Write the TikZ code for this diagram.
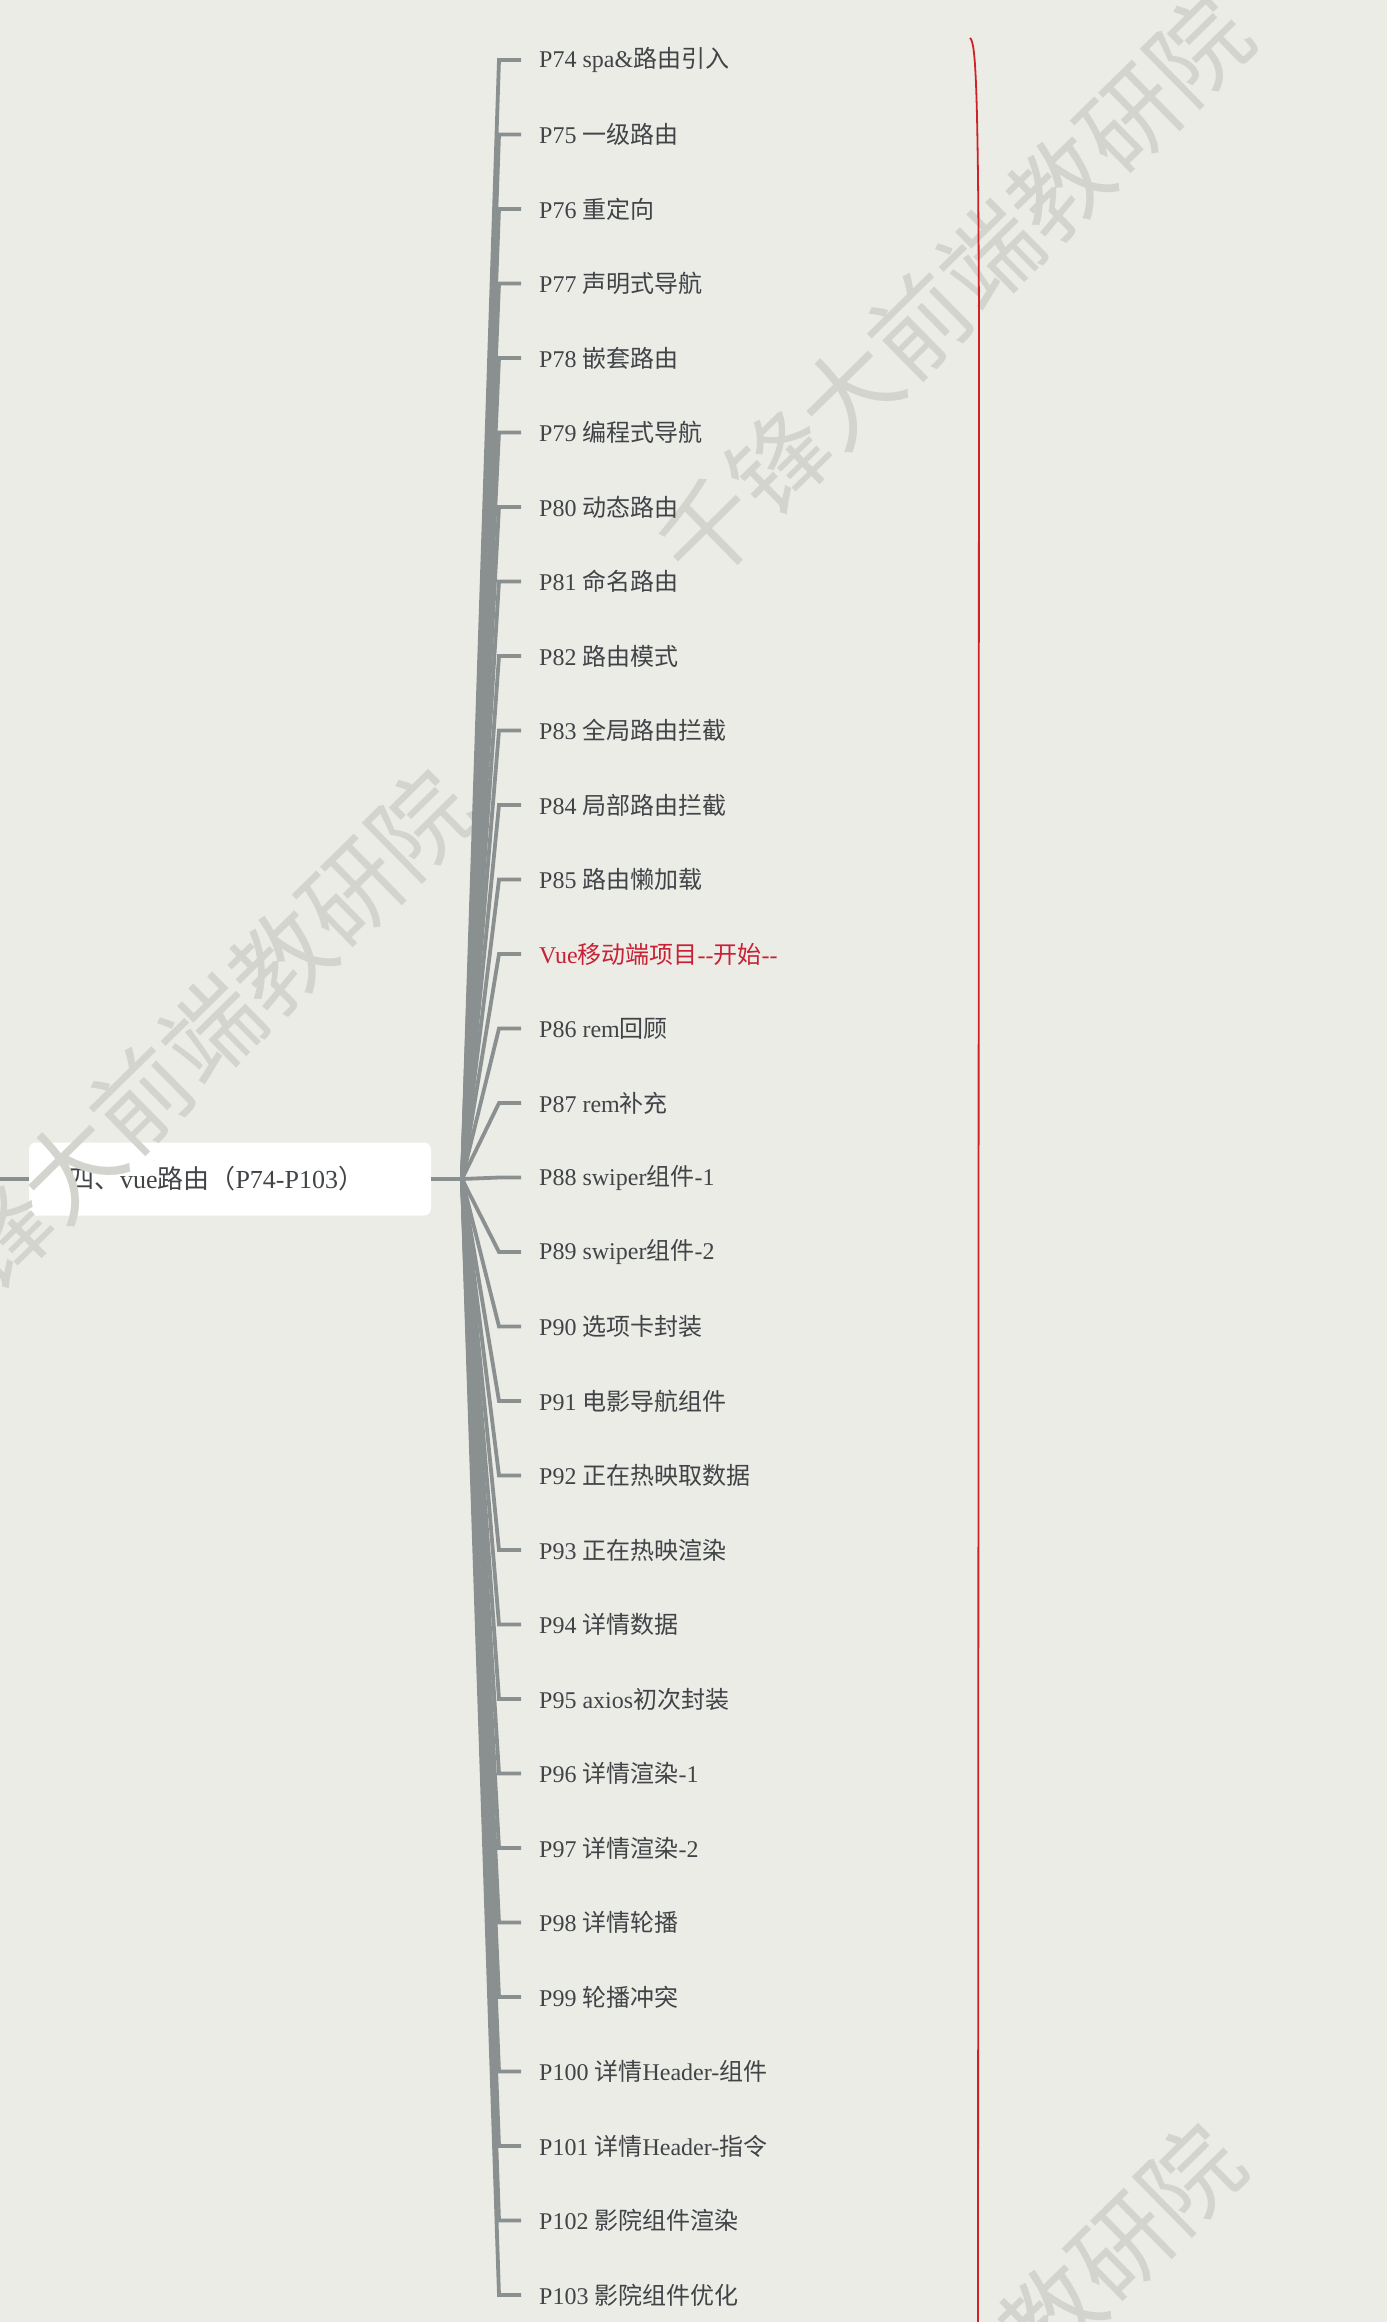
\documentclass[tikz,border=0pt]{standalone}
\usepackage{fontspec}
\setmainfont{Liberation Serif}
\newfontfamily\cjk{Noto Sans CJK SC}
\usepackage{tikz}
\usetikzlibrary{
  positioning
}
\definecolor{paper}{RGB}{236,236,231}
\definecolor{branchgray}{RGB}{138,143,144}
\definecolor{labelgray}{RGB}{64,68,71}
\definecolor{startred}{RGB}{200,32,52}
\definecolor{summaryred}{RGB}{205,35,40}
\definecolor{markgray}{RGB}{212,212,207}
\newcommand{\zh}[1]{{\cjk #1}}

\begin{document}
\begin{tikzpicture}[x=1pt, y=-1pt,
  rootbox/.style   = {fill=white, rounded corners=7pt, minimum width=402pt, minimum height=73pt,
                      text width=324pt, inner xsep=39pt, inner ysep=0pt, align=left,
                      text=labelgray, font=\fontsize{26}{30}\selectfont},
  leaf/.style      = {anchor=west, inner sep=0pt, text=labelgray, font=\fontsize{24}{28}\selectfont},
  redleaf/.style   = {leaf, text=startred},
  branch/.style    = {draw=branchgray, line width=3.8pt, line join=miter},
  summary/.style   = {draw=summaryred, line width=1.8pt},
  watermark/.style = {rotate=44.5, text=markgray, inner sep=0pt, font=\cjk\fontsize{98}{98}\selectfont}
]
  \useasboundingbox (0,0) rectangle (1387,2322);
  \clip (0,0) rectangle (1387,2322);
  \fill [paper] (0,0) rectangle (1387,2322);

  % Main topic
  \node [rootbox] (root) at (230,1179) {\zh{四、}vue\zh{路由（}P74-P103\zh{）}};

  % Watermarks
  \node [watermark] (wm1) at (954,290)   {千锋大前端教研院};
  \node [watermark] (wm2) at (176,1064)  {千锋大前端教研院};
  \node [watermark] (wm3) at (946,2418)  {千锋大前端教研院};

  % Sub topics
  \node [leaf]    (p74)  at (539,  60.0) {P74 spa\&\zh{路由引入}};
  \node [leaf]    (p75)  at (539, 134.5) {P75 \zh{一级路由}};
  \node [leaf]    (p76)  at (539, 209.0) {P76 \zh{重定向}};
  \node [leaf]    (p77)  at (539, 283.5) {P77 \zh{声明式导航}};
  \node [leaf]    (p78)  at (539, 358.0) {P78 \zh{嵌套路由}};
  \node [leaf]    (p79)  at (539, 432.5) {P79 \zh{编程式导航}};
  \node [leaf]    (p80)  at (539, 507.0) {P80 \zh{动态路由}};
  \node [leaf]    (p81)  at (539, 581.5) {P81 \zh{命名路由}};
  \node [leaf]    (p82)  at (539, 656.0) {P82 \zh{路由模式}};
  \node [leaf]    (p83)  at (539, 730.5) {P83 \zh{全局路由拦截}};
  \node [leaf]    (p84)  at (539, 805.0) {P84 \zh{局部路由拦截}};
  \node [leaf]    (p85)  at (539, 879.5) {P85 \zh{路由懒加载}};
  \node [redleaf] (vue)  at (539, 954.0) {Vue\zh{移动端项目}-{}-\zh{开始}-{}-};
  \node [leaf]    (p86)  at (539,1028.5) {P86 rem\zh{回顾}};
  \node [leaf]    (p87)  at (539,1103.0) {P87 rem\zh{补充}};
  \node [leaf]    (p88)  at (539,1177.5) {P88 swiper\zh{组件}-1};
  \node [leaf]    (p89)  at (539,1252.0) {P89 swiper\zh{组件}-2};
  \node [leaf]    (p90)  at (539,1326.5) {P90 \zh{选项卡封装}};
  \node [leaf]    (p91)  at (539,1401.0) {P91 \zh{电影导航组件}};
  \node [leaf]    (p92)  at (539,1475.5) {P92 \zh{正在热映取数据}};
  \node [leaf]    (p93)  at (539,1550.0) {P93 \zh{正在热映渲染}};
  \node [leaf]    (p94)  at (539,1624.5) {P94 \zh{详情数据}};
  \node [leaf]    (p95)  at (539,1699.0) {P95 axios\zh{初次封装}};
  \node [leaf]    (p96)  at (539,1773.5) {P96 \zh{详情渲染}-1};
  \node [leaf]    (p97)  at (539,1848.0) {P97 \zh{详情渲染}-2};
  \node [leaf]    (p98)  at (539,1922.5) {P98 \zh{详情轮播}};
  \node [leaf]    (p99)  at (539,1997.0) {P99 \zh{轮播冲突}};
  \node [leaf]    (p100) at (539,2071.5) {P100 \zh{详情}Header-\zh{组件}};
  \node [leaf]    (p101) at (539,2146.0) {P101 \zh{详情}Header-\zh{指令}};
  \node [leaf]    (p102) at (539,2220.5) {P102 \zh{影院组件渲染}};
  \node [leaf]    (p103) at (539,2295.0) {P103 \zh{影院组件优化}};

  % Link main topic to its parent and to the fork
  \coordinate (parent) at (0,1179);
  \coordinate (fork)   at (462,1179);
  \draw [branch] (parent) -- (root.west);
  \draw [branch] (root.east) -- (fork);

  % Branches
  \draw [branch] (fork) -- ([xshift=-40pt]p74.west)  -- ([xshift=-18pt]p74.west);
  \draw [branch] (fork) -- ([xshift=-40pt]p75.west)  -- ([xshift=-18pt]p75.west);
  \draw [branch] (fork) -- ([xshift=-40pt]p76.west)  -- ([xshift=-18pt]p76.west);
  \draw [branch] (fork) -- ([xshift=-40pt]p77.west)  -- ([xshift=-18pt]p77.west);
  \draw [branch] (fork) -- ([xshift=-40pt]p78.west)  -- ([xshift=-18pt]p78.west);
  \draw [branch] (fork) -- ([xshift=-40pt]p79.west)  -- ([xshift=-18pt]p79.west);
  \draw [branch] (fork) -- ([xshift=-40pt]p80.west)  -- ([xshift=-18pt]p80.west);
  \draw [branch] (fork) -- ([xshift=-40pt]p81.west)  -- ([xshift=-18pt]p81.west);
  \draw [branch] (fork) -- ([xshift=-40pt]p82.west)  -- ([xshift=-18pt]p82.west);
  \draw [branch] (fork) -- ([xshift=-40pt]p83.west)  -- ([xshift=-18pt]p83.west);
  \draw [branch] (fork) -- ([xshift=-40pt]p84.west)  -- ([xshift=-18pt]p84.west);
  \draw [branch] (fork) -- ([xshift=-40pt]p85.west)  -- ([xshift=-18pt]p85.west);
  \draw [branch] (fork) -- ([xshift=-40pt]vue.west)  -- ([xshift=-18pt]vue.west);
  \draw [branch] (fork) -- ([xshift=-40pt]p86.west)  -- ([xshift=-18pt]p86.west);
  \draw [branch] (fork) -- ([xshift=-40pt]p87.west)  -- ([xshift=-18pt]p87.west);
  \draw [branch] (fork) -- ([xshift=-40pt]p88.west)  -- ([xshift=-18pt]p88.west);
  \draw [branch] (fork) -- ([xshift=-40pt]p89.west)  -- ([xshift=-18pt]p89.west);
  \draw [branch] (fork) -- ([xshift=-40pt]p90.west)  -- ([xshift=-18pt]p90.west);
  \draw [branch] (fork) -- ([xshift=-40pt]p91.west)  -- ([xshift=-18pt]p91.west);
  \draw [branch] (fork) -- ([xshift=-40pt]p92.west)  -- ([xshift=-18pt]p92.west);
  \draw [branch] (fork) -- ([xshift=-40pt]p93.west)  -- ([xshift=-18pt]p93.west);
  \draw [branch] (fork) -- ([xshift=-40pt]p94.west)  -- ([xshift=-18pt]p94.west);
  \draw [branch] (fork) -- ([xshift=-40pt]p95.west)  -- ([xshift=-18pt]p95.west);
  \draw [branch] (fork) -- ([xshift=-40pt]p96.west)  -- ([xshift=-18pt]p96.west);
  \draw [branch] (fork) -- ([xshift=-40pt]p97.west)  -- ([xshift=-18pt]p97.west);
  \draw [branch] (fork) -- ([xshift=-40pt]p98.west)  -- ([xshift=-18pt]p98.west);
  \draw [branch] (fork) -- ([xshift=-40pt]p99.west)  -- ([xshift=-18pt]p99.west);
  \draw [branch] (fork) -- ([xshift=-40pt]p100.west) -- ([xshift=-18pt]p100.west);
  \draw [branch] (fork) -- ([xshift=-40pt]p101.west) -- ([xshift=-18pt]p101.west);
  \draw [branch] (fork) -- ([xshift=-40pt]p102.west) -- ([xshift=-18pt]p102.west);
  \draw [branch] (fork) -- ([xshift=-40pt]p103.west) -- ([xshift=-18pt]p103.west);

  % Summary line
  \draw [summary] (970,38) .. controls (976,42) and (978,90) .. (979,320) -- (978,2330);
\end{tikzpicture}
\end{document}
